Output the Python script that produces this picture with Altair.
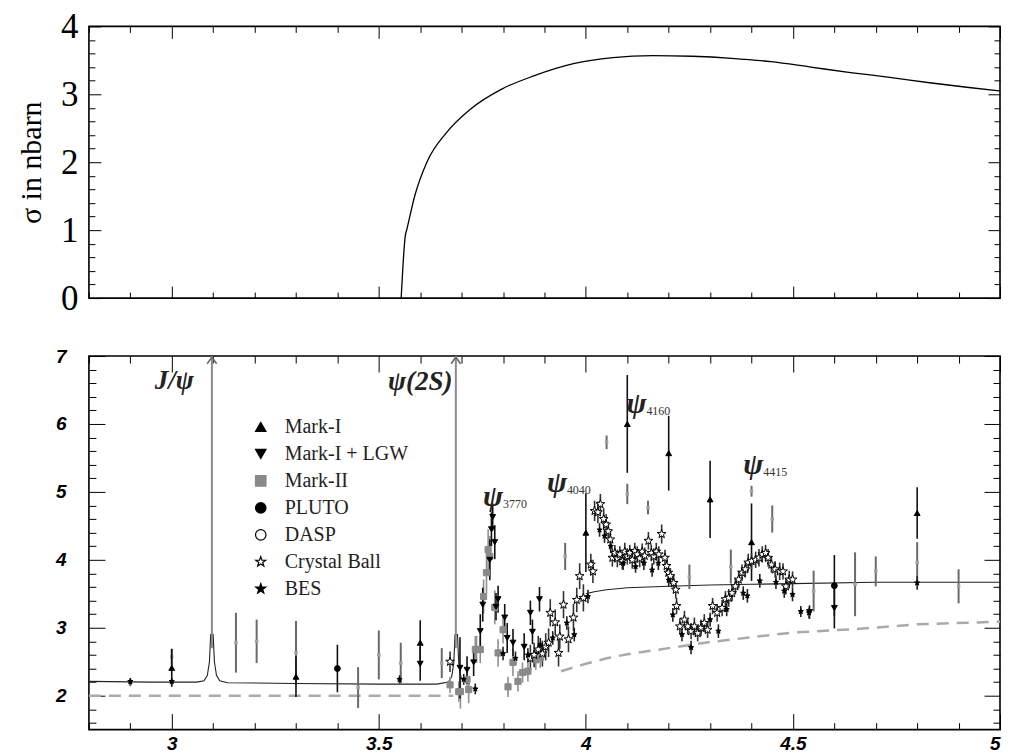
import altair as alt
import pandas as pd

# ---------------- data ----------------
# top panel curve (sigma in nbarn)
TOP_X = [3.554, 3.564, 3.568, 3.587, 3.616, 3.664, 3.721, 3.798, 3.874, 3.970, 4.065,
         4.161, 4.256, 4.352, 4.447, 4.543, 4.639, 4.734, 4.830, 4.925, 5.000]
TOP_Y = [0.00, 0.92, 1.02, 1.51, 2.00, 2.44, 2.78, 3.08, 3.27, 3.45, 3.54,
         3.57, 3.56, 3.53, 3.48, 3.40, 3.32, 3.25, 3.17, 3.10, 3.05]

# bottom panel: solid curve (two pieces) and dashed curve (two pieces)
SOLID1_X = [2.80, 2.95, 3.06, 3.078, 3.086, 3.091, 3.094, 3.100, 3.103, 3.108, 3.116, 3.135,
            3.30, 3.50, 3.64, 3.668, 3.676, 3.681, 3.684, 3.690, 3.693, 3.698, 3.706, 3.72]
SOLID1_Y = [2.21, 2.20, 2.20, 2.22, 2.30, 2.50, 2.90, 2.90, 2.50, 2.30, 2.22, 2.19,
            2.18, 2.17, 2.17, 2.20, 2.28, 2.48, 2.90, 2.90, 2.48, 2.28, 2.20, 2.17]
SOLID2_X = [4.00, 4.02, 4.05, 4.10, 4.20, 4.30, 4.40, 4.50, 4.70, 5.00]
SOLID2_Y = [3.50, 3.53, 3.56, 3.59, 3.61, 3.63, 3.64, 3.65, 3.67, 3.67]
DASH1_X = [2.80, 3.68]
DASH1_Y = [2.00, 2.00]
DASH2_X = [3.94, 4.00, 4.05, 4.10, 4.20, 4.30, 4.40, 4.50, 4.65, 4.80, 5.00]
DASH2_Y = [2.36, 2.47, 2.55, 2.61, 2.70, 2.79, 2.86, 2.93, 2.98, 3.05, 3.09]

# narrow resonances drawn as spikes
SPIKE_X = [3.097, 3.686]
SPIKE_LO = [2.70, 2.70]
SPIKE_HI = [7.00, 7.00]

# experiments
EXPS = ["Mark-I", "Mark-I + LGW", "Mark-II", "PLUTO", "DASP", "Crystal Ball", "BES"]

MARK1_X = [3.00, 3.30, 3.60, 4.00, 4.10, 4.20, 4.30, 4.40, 4.80]
MARK1_Y = [2.41, 2.28, 2.78, 4.40, 6.00, 5.57, 4.89, 4.26, 4.69]
MARK1_E = [0.28, 0.30, 0.33, 0.58, 0.72, 0.55, 0.57, 0.57, 0.38]

LGW_X = [3.600, 3.696, 3.713, 3.729, 3.745, 3.751, 3.768, 3.772, 3.775, 3.780, 3.783,
         3.788, 3.804, 3.810, 3.824, 3.851, 3.866, 3.871, 3.888, 4.540, 4.600]
LGW_Y = [2.47, 2.41, 2.38, 2.49, 2.95, 3.34, 4.00, 4.45, 4.63, 4.26, 3.31,
         3.42, 3.15, 2.85, 2.78, 2.72, 3.22, 2.94, 3.42, 3.23, 3.29]
LGW_E = [0.25, 0.45, 0.20, 0.20, 0.25, 0.25, 0.30, 0.25, 0.20, 0.25, 0.20,
         0.20, 0.20, 0.22, 0.20, 0.20, 0.18, 0.18, 0.18, 0.10, 0.30]

MARK2_X = [3.672, 3.693, 3.697, 3.713, 3.717, 3.733, 3.736, 3.745, 3.753, 3.760, 3.764,
           3.768, 3.780, 3.788, 3.800, 3.812, 3.824, 3.836, 3.847, 3.860, 3.879, 3.890]
MARK2_Y = [2.16, 2.06, 2.06, 2.24, 2.09, 2.68, 2.68, 2.68, 3.46, 3.81, 4.15,
           4.05, 3.30, 2.63, 2.97, 2.13, 2.49, 2.21, 2.34, 2.36, 2.53, 2.56]
MARK2_E = [0.12, 0.15, 0.25, 0.20, 0.20, 0.20, 0.20, 0.20, 0.25, 0.30, 0.30,
           0.30, 0.25, 0.20, 0.20, 0.15, 0.20, 0.15, 0.15, 0.15, 0.15, 0.15]

PLUTO_X = [3.40, 4.60]
PLUTO_Y = [2.40, 3.62]
PLUTO_E = [0.35, 0.45]

DASP_X = []
DASP_Y = []
DASP_E = []

CB_X = [3.672, 3.866, 3.875, 3.885, 3.895, 3.903, 3.910, 3.914, 3.926, 3.934, 3.937, 3.946,
        3.958, 3.970, 3.978, 3.985, 3.994, 4.012, 4.017, 4.021, 4.029, 4.035, 4.043, 4.049,
        4.054, 4.059, 4.064, 4.070, 4.076, 4.082, 4.088, 4.094, 4.100, 4.106, 4.112, 4.118,
        4.124, 4.130, 4.136, 4.142, 4.151, 4.158, 4.164, 4.170, 4.176, 4.183, 4.191, 4.195,
        4.199, 4.204, 4.212, 4.217, 4.219, 4.227, 4.238, 4.246, 4.254, 4.262, 4.270, 4.278,
        4.286, 4.294, 4.306, 4.317, 4.329, 4.337, 4.345, 4.353, 4.361, 4.369, 4.377, 4.385,
        4.392, 4.400, 4.410, 4.418, 4.426, 4.434, 4.440, 4.448, 4.457, 4.468, 4.476, 4.483,
        4.491, 4.499]
CB_Y = [2.50, 2.55, 2.60, 2.68, 2.62, 2.72, 2.78, 3.22, 3.08, 2.63, 2.87, 3.34,
        2.83, 3.15, 3.41, 3.76, 3.44, 3.93, 3.83, 4.72, 4.70, 4.82, 4.60, 4.52,
        4.42, 4.30, 4.03, 4.10, 4.02, 4.08, 3.98, 4.12, 4.05, 4.10, 4.00, 4.13,
        4.08, 4.02, 4.12, 4.06, 4.28, 4.10, 4.05, 4.12, 4.08, 4.38, 4.03, 3.91,
        3.81, 3.76, 3.66, 3.56, 3.32, 3.02, 3.12, 3.02, 2.95, 3.02, 2.92, 3.00,
        3.07, 2.97, 3.32, 3.22, 3.29, 3.42, 3.44, 3.51, 3.61, 3.71, 3.81, 3.86,
        3.96, 3.98, 4.00, 4.03, 4.08, 4.10, 4.03, 3.93, 3.86, 3.83, 3.83, 3.61,
        3.71, 3.71]
CB_E = [0.15, 0.20, 0.18, 0.20, 0.19, 0.20, 0.21, 0.20, 0.19, 0.20, 0.18, 0.20,
        0.19, 0.20, 0.18, 0.19, 0.20, 0.16, 0.17, 0.15, 0.16, 0.15, 0.16, 0.15,
        0.14, 0.15, 0.13, 0.12, 0.13, 0.12, 0.12, 0.13, 0.12, 0.12, 0.13, 0.12,
        0.12, 0.13, 0.12, 0.12, 0.13, 0.12, 0.12, 0.13, 0.12, 0.14, 0.12, 0.12,
        0.13, 0.12, 0.12, 0.13, 0.12, 0.12, 0.13, 0.12, 0.12, 0.13, 0.12, 0.12,
        0.13, 0.12, 0.12, 0.13, 0.12, 0.12, 0.13, 0.12, 0.12, 0.13, 0.12, 0.12,
        0.13, 0.12, 0.12, 0.13, 0.12, 0.12, 0.13, 0.12, 0.12, 0.13, 0.12, 0.12,
        0.13, 0.12]

BES_X = [2.90, 3.00, 3.550, 3.705, 3.733, 3.800, 3.830, 3.860, 3.890, 3.920, 3.954, 3.972,
         4.005, 4.033, 4.045, 4.060, 4.090, 4.120, 4.140, 4.160, 4.175, 4.200, 4.210, 4.232,
         4.254, 4.300, 4.320, 4.340, 4.380, 4.390, 4.420, 4.459, 4.479, 4.499, 4.519, 4.539,
         4.800]
BES_Y = [2.21, 2.21, 2.24, 2.24, 2.10, 2.62, 2.55, 2.60, 2.75, 2.85, 3.07, 2.90,
         3.46, 4.44, 4.35, 4.20, 3.95, 3.90, 3.95, 3.85, 3.95, 3.70, 3.19, 2.90,
         2.71, 3.12, 2.95, 3.27, 3.51, 3.47, 3.69, 3.67, 3.54, 3.49, 3.24, 3.22,
         3.66]
BES_E = [0.05, 0.05, 0.06, 0.08, 0.08, 0.10, 0.10, 0.10, 0.10, 0.10, 0.10, 0.10,
         0.10, 0.10, 0.10, 0.10, 0.10, 0.09, 0.10, 0.10, 0.10, 0.10, 0.10, 0.10,
         0.10, 0.10, 0.10, 0.10, 0.10, 0.10, 0.10, 0.10, 0.10, 0.10, 0.08, 0.08,
         0.10]

# other measurements (small grey points)
OTH_X = [2.90, 3.00, 3.155, 3.205, 3.300, 3.450, 3.500, 3.553, 3.652, 3.950, 4.050,
         4.100, 4.150, 4.250, 4.350, 4.400, 4.450, 4.550, 4.650, 4.700, 4.800, 4.900]
OTH_Y = [2.19, 2.57, 2.78, 2.80, 2.63, 2.12, 2.60, 2.48, 2.48, 4.05, 5.73,
         4.97, 4.77, 3.75, 3.90, 5.01, 4.60, 3.54, 3.64, 3.83, 3.96, 3.61]
OTH_E = [0.05, 0.12, 0.44, 0.32, 0.47, 0.30, 0.36, 0.30, 0.22, 0.20, 0.10,
         0.15, 0.10, 0.18, 0.25, 0.08, 0.20, 0.30, 0.47, 0.22, 0.30, 0.25]

# resonance labels
RES_X = [3.006, 3.600]
RES_Y = [6.63, 6.62]
RES_T = ["J/ψ", "ψ(2S)"]
PSI_X = [3.776, 3.930, 4.122, 4.404]
PSI_Y = [4.93, 5.13, 6.29, 5.39]
PSI_SUB = ["3770", "4040", "4160", "4415"]

# axis tick values
X_TICKS = [2.8, 2.9, 3.0, 3.1, 3.2, 3.3, 3.4, 3.5, 3.6, 3.7, 3.8, 3.9, 4.0, 4.1, 4.2,
           4.3, 4.4, 4.5, 4.6, 4.7, 4.8, 4.9, 5.0]
Y_TICKS_TOP = [0.0, 0.2, 0.4, 0.6, 0.8, 1.0, 1.2, 1.4, 1.6, 1.8, 2.0, 2.2, 2.4, 2.6, 2.8,
               3.0, 3.2, 3.4, 3.6, 3.8, 4.0]
Y_TICKS_BOT = [1.6, 1.8, 2.0, 2.2, 2.4, 2.6, 2.8, 3.0, 3.2, 3.4, 3.6, 3.8, 4.0, 4.2, 4.4,
               4.6, 4.8, 5.0, 5.2, 5.4, 5.6, 5.8, 6.0, 6.2, 6.4, 6.6, 6.8, 7.0]

# ---------------- styles ----------------
STAR = ("M0,-1L0.235,-0.324L0.951,-0.309L0.38,0.124L0.588,0.809L0,0.4L-0.588,0.809"
        "L-0.38,0.124L-0.951,-0.309L-0.235,-0.324Z")
SHAPES = ["triangle-up", "triangle-down", "square", "circle", "circle", STAR, STAR]
FILLS = ["#000000", "#000000", "#8a8a8a", "#000000", "#ffffff", "#ffffff", "#000000"]
STROKES = ["#000000", "#000000", "#8a8a8a", "#000000", "#000000", "#000000", "#000000"]
SIZE_OF = dict(zip(EXPS, [34, 34, 38, 34, 34, 85, 30]))
BARCOL_OF = dict(zip(EXPS, ["#111111", "#111111", "#8f8f8f", "#111111", "#111111",
                            "#333333", "#222222"]))

W = 912
XMAJ = "abs(datum.value*2-round(datum.value*2))<0.001"
YMAJ = "abs(datum.value-round(datum.value))<0.001"


def tick_axis(orient, values, major_expr, big, small, **kw):
    base = dict(orient=orient, values=values, grid=False, domain=False, title=None,
                labels=False, ticks=True, tickColor="black", tickWidth=1,
                labelOverlap=False,
                tickSize={"expr": f"({major_expr}) ? {-big} : {-small}"})
    base.update(kw)
    return alt.Axis(**base)


# ---------------- build tables ----------------
top_df = pd.DataFrame({"x": TOP_X, "y": TOP_Y})


def seg_df(pieces):
    rows = []
    for name, xs_, ys_ in pieces:
        for i, (a, b) in enumerate(zip(xs_, ys_)):
            rows.append({"seg": name, "i": i, "x": a, "y": b})
    return pd.DataFrame(rows)


solid_df = seg_df([("s1", SOLID1_X, SOLID1_Y), ("s2", SOLID2_X, SOLID2_Y)])
dash_df = seg_df([("d1", DASH1_X, DASH1_Y), ("d2", DASH2_X, DASH2_Y)])
spike_df = pd.DataFrame({"x": SPIKE_X, "lo": SPIKE_LO, "hi": SPIKE_HI})

series = {
    "Mark-II": (MARK2_X, MARK2_Y, MARK2_E),
    "Mark-I + LGW": (LGW_X, LGW_Y, LGW_E),
    "Mark-I": (MARK1_X, MARK1_Y, MARK1_E),
    "PLUTO": (PLUTO_X, PLUTO_Y, PLUTO_E),
    "DASP": (DASP_X, DASP_Y, DASP_E),
    "Crystal Ball": (CB_X, CB_Y, CB_E),
    "BES": (BES_X, BES_Y, BES_E),
}
rows = []
for name, (xs_, ys_, es_) in series.items():
    for a, b, c in zip(xs_, ys_, es_):
        rows.append({"exp": name, "x": a, "y": b, "e": c,
                     "sz": SIZE_OF[name], "barcol": BARCOL_OF[name]})
pts_df = pd.DataFrame(rows)
oth_df = pd.DataFrame({"x": OTH_X, "y": OTH_Y, "e": OTH_E})
res_df = pd.DataFrame({"x": RES_X, "y": RES_Y, "t": RES_T})
psi_df = pd.DataFrame({"x": PSI_X, "y": PSI_Y, "sub": PSI_SUB})

xs = alt.Scale(domain=[2.8, 5.0], nice=False, zero=False)
ys_top = alt.Scale(domain=[0, 4], nice=False, zero=False)
ys_bot = alt.Scale(domain=[1.5, 7.0], nice=False, zero=False)

XP = alt.X("x:Q", scale=xs, axis=None)
YP = alt.Y("y:Q", scale=ys_bot, axis=None)

# ---------------- top panel ----------------
top_line = alt.Chart(top_df).mark_line(color="black", strokeWidth=1.3, interpolate="monotone").encode(
    x=alt.X("x:Q", scale=xs, axis=tick_axis("bottom", X_TICKS, XMAJ, 12, 6)),
    y=alt.Y("y:Q", scale=ys_top, axis=tick_axis(
        "left", Y_TICKS_TOP, YMAJ, 12, 6, labels=True,
        labelExpr=f"({YMAJ}) ? format(datum.value, 'd') : ''",
        labelFont="Liberation Serif", labelFontSize=35, labelColor="black",
        labelPadding=23, title="σ in nbarn", titleFont="Liberation Serif",
        titleFontSize=30, titleFontWeight="normal", titleColor="black", titlePadding=14)),
)
top_frame = alt.Chart(top_df).mark_line(opacity=0).encode(
    x=alt.X("x:Q", scale=xs, axis=tick_axis("top", X_TICKS, XMAJ, 12, 6)),
    y=alt.Y("y:Q", scale=ys_top, axis=tick_axis("right", Y_TICKS_TOP, YMAJ, 12, 6)),
)
top = alt.layer(top_line, top_frame).resolve_axis(x="independent", y="independent").properties(
    width=W, height=272)

# ---------------- bottom panel ----------------
xb = alt.X("x:Q", scale=xs, axis=tick_axis(
    "bottom", X_TICKS, XMAJ, 16, 7, labels=True, labelFlush=True,
    labelExpr=f"({XMAJ}) ? format(datum.value, '.1~f') : ''",
    labelFont="Liberation Sans", labelFontSize=19, labelFontWeight="bold",
    labelFontStyle="italic", labelColor="black", labelPadding=21))
yb = alt.Y("y:Q", scale=ys_bot, axis=tick_axis(
    "left", Y_TICKS_BOT, YMAJ, 16, 7, labels=True,
    labelExpr=f"({YMAJ}) ? format(datum.value, 'd') : ''",
    labelFont="Liberation Sans", labelFontSize=19, labelFontWeight="bold",
    labelFontStyle="italic", labelColor="black", labelPadding=39))

dash = alt.Chart(dash_df).mark_line(color="#aaaaaa", strokeWidth=2.5, strokeDash=[12, 8]).encode(
    x=xb, y=yb, detail="seg:N", order="i:Q")
bot_frame = alt.Chart(dash_df).mark_line(opacity=0).encode(
    x=alt.X("x:Q", scale=xs, axis=tick_axis("top", X_TICKS, XMAJ, 16, 7)),
    y=alt.Y("y:Q", scale=ys_bot, axis=tick_axis("right", Y_TICKS_BOT, YMAJ, 16, 7)),
    detail="seg:N")
solid = alt.Chart(solid_df).mark_line(color="#222222", strokeWidth=1.1).encode(
    x=XP, y=YP, detail="seg:N", order="i:Q")
spikes = alt.Chart(spike_df).mark_rule(color="#8a8a8a", strokeWidth=2).encode(
    x=XP, y=alt.Y("lo:Q", scale=ys_bot, axis=None), y2="hi:Q")
arrows = alt.Chart(spike_df).mark_point(
    shape="M-1,0.8L0,-0.6L1,0.8", filled=False, color="#6a6a6a", strokeWidth=1.6,
    size=90, opacity=1).encode(
    x=XP, y=alt.Y("hi:Q", scale=ys_bot, axis=None), yOffset=alt.value(4))

oth_bars = alt.Chart(oth_df).transform_calculate(
    lo="datum.y - datum.e", hi="datum.y + datum.e").mark_rule(
    color="#6a6a6a", strokeWidth=2).encode(
    x=XP, y=alt.Y("lo:Q", scale=ys_bot, axis=None), y2="hi:Q")
oth_pts = alt.Chart(oth_df).mark_point(
    shape="square", filled=True, color="#a0a0a0", size=12, opacity=1).encode(x=XP, y=YP)

bars = alt.Chart(pts_df).transform_calculate(
    lo="datum.y - datum.e", hi="datum.y + datum.e").mark_rule(strokeWidth=1.6).encode(
    x=XP, y=alt.Y("lo:Q", scale=ys_bot, axis=None), y2="hi:Q",
    color=alt.Color("barcol:N", scale=None))

leg = alt.Legend(orient="none", legendX=162, legendY=61, title=None,
                 labelFont="Liberation Serif", labelFontSize=20, labelColor="#222222",
                 symbolSize=110, rowPadding=7, labelOffset=14, symbolStrokeWidth=1.2,
                 padding=0, labelLimit=300)
points = alt.Chart(pts_df).mark_point(opacity=1, strokeWidth=1).encode(
    x=XP, y=YP,
    shape=alt.Shape("exp:N", scale=alt.Scale(domain=EXPS, range=SHAPES), legend=leg, title=None),
    fill=alt.Fill("exp:N", scale=alt.Scale(domain=EXPS, range=FILLS), legend=leg, title=None),
    stroke=alt.Stroke("exp:N", scale=alt.Scale(domain=EXPS, range=STROKES), legend=leg, title=None),
    size=alt.Size("sz:Q", scale=None),
)

res_txt = alt.Chart(res_df).mark_text(
    font="Liberation Serif", fontSize=27, fontWeight="bold", fontStyle="italic",
    color="#222222").encode(x=XP, y=YP, text="t:N")
psi_txt = alt.Chart(psi_df).mark_text(
    font="Liberation Serif", fontSize=30, fontWeight="bold", fontStyle="italic",
    color="#222222").encode(x=XP, y=YP, text=alt.value("ψ"))
psi_sub = alt.Chart(psi_df).mark_text(
    font="Liberation Serif", fontSize=12, align="left", dx=10, dy=7,
    color="#333333").encode(x=XP, y=YP, text="sub:N")

bottom = alt.layer(
    dash, bot_frame, solid, spikes, arrows, oth_bars, oth_pts, bars, points,
    res_txt, psi_txt, psi_sub,
).resolve_axis(x="independent", y="independent").properties(width=W, height=374)

chart = alt.vconcat(top, bottom, spacing=29).resolve_legend(
    shape="independent", fill="independent", stroke="independent"
).properties(
    padding={"left": 7, "top": 0, "right": 0, "bottom": 0}
).configure_view(stroke="black", strokeWidth=1.6).configure_axis(grid=False)

chart.save("out.html", embed_options={"renderer": "svg", "actions": False})
